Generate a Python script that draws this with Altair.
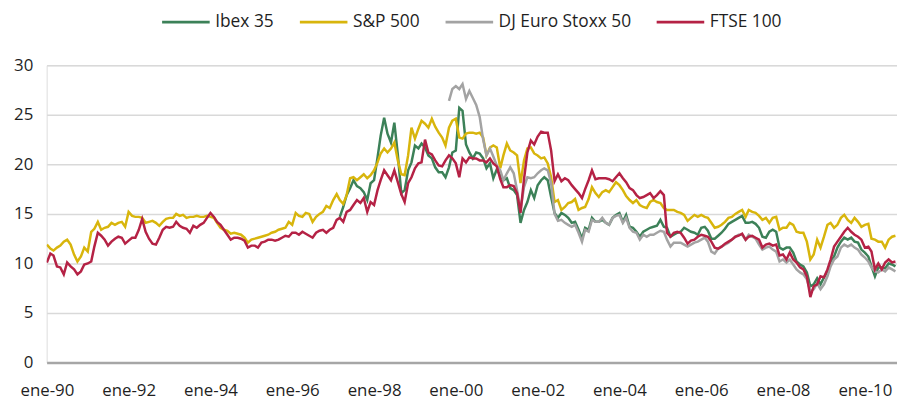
import altair as alt
import pandas as pd

# ---------------- data (monthly P/E ratios) ----------------
series_names = ["Ibex 35", "S&P 500", "DJ Euro Stoxx 50", "FTSE 100"]
series_colors = ["#3C8158", "#D8B50C", "#A3A3A3", "#B52245"]
series_start = {"Ibex 35": "1997-03-01", "S&P 500": "1990-01-01",
                "DJ Euro Stoxx 50": "1999-11-01", "FTSE 100": "1990-01-01"}

sp500 = [
    11.9, 11.5, 11.3, 11.6, 11.8, 12.2, 12.4, 11.9, 10.9, 10.2, 10.7, 11.6,  # 1990
    11.2, 13.2, 13.5, 14.2, 13.4, 13.6, 13.7, 14.1, 13.9, 14.1, 14.2, 13.7,  # 1991
    15.2, 14.8, 14.7, 14.7, 14.6, 14.1, 14.2, 14.3, 14.1, 13.8, 14.2, 14.5,  # 1992
    14.6, 14.6, 15.0, 14.8, 14.9, 14.6, 14.7, 14.7, 14.8, 14.7, 14.7, 14.8,  # 1993
    14.7, 14.6, 14.1, 13.6, 13.4, 13.3, 13.0, 13.1, 13.0, 12.9, 12.6, 12.1,  # 1994
    12.4, 12.5, 12.6, 12.7, 12.8, 12.9, 13.1, 13.2, 13.4, 13.5, 13.6, 14.2,  # 1995
    13.9, 15.1, 14.8, 14.7, 15.1, 15.0, 14.2, 14.7, 15.0, 15.2, 15.8, 15.6,  # 1996
    16.4, 17.0, 16.4, 16.0, 16.9, 18.6, 18.7, 18.4, 18.7, 19.0, 18.6, 18.9,  # 1997
    19.4, 20.2, 21.1, 21.6, 21.2, 21.6, 22.2, 20.4, 19.0, 18.9, 20.9, 23.7,  # 1998
    22.6, 23.6, 24.4, 24.1, 23.7, 24.6, 23.8, 23.2, 22.7, 21.9, 23.7, 24.4,  # 1999
    24.6, 22.7, 22.6, 23.1, 23.2, 23.2, 23.1, 23.2, 22.7, 20.9, 21.7, 21.9,  # 2000
    21.7, 19.6, 20.9, 22.1, 21.4, 21.2, 20.9, 18.1, 20.4, 21.6, 21.7, 21.1,  # 2001
    20.9, 20.6, 20.7, 20.1, 18.7, 16.2, 16.4, 15.4, 15.7, 16.1, 16.2, 16.5,  # 2002
    15.4, 15.6, 15.7, 16.5, 17.7, 17.1, 16.7, 17.2, 17.4, 17.2, 17.7, 18.2,  # 2003
    17.9, 17.4, 16.8, 16.4, 16.1, 16.4, 15.9, 15.7, 15.6, 16.2, 16.4, 16.2,  # 2004
    16.1, 15.6, 15.4, 15.4, 15.4, 15.2, 15.1, 14.9, 14.3, 14.6, 14.9, 14.7,  # 2005
    14.9, 14.7, 14.6, 14.1, 13.6, 13.7, 13.9, 14.2, 14.6, 14.7, 15.0, 15.2,  # 2006
    15.4, 14.7, 15.4, 15.2, 15.1, 14.8, 14.4, 14.6, 14.1, 14.6, 14.7, 13.4,  # 2007
    13.6, 13.6, 14.1, 13.9, 13.2, 13.1, 13.1, 12.2, 10.4, 10.9, 12.4, 11.6,  # 2008
    12.7, 13.9, 14.1, 13.6, 13.9, 14.6, 14.9, 14.4, 14.1, 14.6, 14.2, 13.7,  # 2009
    13.9, 14.0, 12.5, 12.4, 12.2, 12.2, 11.6, 12.4, 12.7, 12.8,              # 2010
]

ftse100 = [
    10.1, 11.0, 10.8, 9.7, 9.6, 8.9, 10.1, 9.7, 9.4, 8.9, 9.2, 9.9,          # 1990
    10.0, 10.2, 11.7, 13.1, 12.8, 12.4, 11.8, 12.2, 12.5, 12.7, 12.6, 12.0,  # 1991
    12.3, 12.6, 12.6, 13.4, 14.5, 13.2, 12.5, 12.0, 11.9, 12.6, 13.4, 13.7,  # 1992
    13.6, 13.7, 14.2, 13.8, 13.6, 13.5, 13.1, 13.8, 13.6, 13.9, 14.1, 14.6,  # 1993
    15.1, 14.7, 14.2, 13.9, 13.4, 12.9, 12.4, 12.6, 12.6, 12.5, 12.3, 11.6,  # 1994
    11.8, 11.8, 11.6, 12.1, 12.2, 12.4, 12.4, 12.3, 12.4, 12.6, 12.8, 12.7,  # 1995
    13.1, 13.1, 12.9, 13.2, 13.0, 12.8, 12.6, 13.1, 13.3, 13.4, 13.1, 13.4,  # 1996
    13.6, 14.4, 14.6, 14.2, 15.2, 15.4, 15.9, 16.4, 16.1, 16.6, 15.2, 16.2,  # 1997
    15.9, 17.4, 18.4, 19.4, 18.9, 18.4, 19.4, 18.2, 17.0, 16.2, 18.1, 18.7,  # 1998
    19.6, 20.1, 20.2, 22.5, 21.2, 21.0, 20.4, 19.9, 19.8, 20.4, 20.9, 20.6,  # 1999
    20.1, 18.7, 20.6, 20.2, 20.7, 20.6, 20.6, 20.4, 20.4, 20.2, 20.6, 20.1,  # 2000
    19.8, 18.5, 17.7, 17.7, 17.9, 17.8, 17.1, 15.1, 18.5, 21.2, 22.4, 22.0,  # 2001
    22.8, 23.3, 23.2, 23.2, 21.4, 18.3, 19.0, 18.3, 18.6, 18.4, 17.9, 17.5,  # 2002
    17.1, 16.6, 17.5, 18.4, 19.4, 18.5, 18.6, 18.6, 18.6, 18.5, 18.3, 18.7,  # 2003
    19.1, 18.6, 18.2, 17.6, 17.4, 16.9, 16.6, 16.7, 16.9, 17.1, 16.6, 16.9,  # 2004
    17.3, 16.9, 13.1, 12.7, 13.1, 13.2, 13.1, 12.6, 12.0, 12.3, 12.4, 12.7,  # 2005
    12.9, 12.8, 12.7, 12.2, 11.6, 11.5, 11.7, 12.0, 12.2, 12.4, 12.7, 12.8,  # 2006
    13.0, 12.4, 12.7, 12.8, 12.6, 12.4, 11.6, 11.9, 12.0, 11.8, 11.9, 10.8,  # 2007
    10.9, 10.4, 11.1, 10.4, 10.1, 9.6, 9.4, 8.7, 6.6, 7.7, 7.9, 8.7,         # 2008
    8.6, 9.4, 10.4, 11.7, 12.2, 12.7, 13.2, 13.6, 13.2, 12.9, 12.7, 12.4,    # 2009
    11.6, 11.7, 11.2, 9.4, 10.0, 9.4, 10.1, 10.4, 10.1, 10.2,                # 2010
]

ibex35 = [
    14.7, 15.7, 16.9, 17.6, 18.4, 17.8, 17.6, 17.2, 16.4, 18.1,              # 1997 (mar-dic)
    18.4, 20.7, 22.9, 24.7, 23.1, 22.2, 24.2, 21.0, 17.1, 17.4, 19.4, 20.2,  # 1998
    21.9, 21.6, 22.1, 21.7, 20.9, 20.6, 19.7, 19.2, 19.2, 18.7, 19.7, 21.2,  # 1999
    21.4, 25.7, 25.4, 22.0, 21.2, 20.6, 21.2, 21.1, 20.6, 19.6, 20.1, 18.6,  # 2000
    19.5, 18.9, 18.4, 18.6, 17.6, 17.4, 16.9, 14.1, 15.4, 16.2, 17.4, 16.6,  # 2001
    17.9, 18.4, 18.7, 18.4, 16.7, 15.1, 14.6, 15.1, 14.9, 14.6, 14.1, 14.2,  # 2002
    13.4, 12.5, 13.6, 13.4, 14.6, 14.2, 14.2, 14.4, 14.1, 13.9, 14.6, 14.9,  # 2003
    15.1, 14.2, 14.9, 13.7, 13.6, 13.2, 12.7, 13.2, 13.4, 13.6, 13.7, 13.8,  # 2004
    14.4, 13.7, 13.6, 12.7, 12.9, 13.1, 13.2, 13.6, 13.4, 13.2, 13.1, 12.9,  # 2005
    13.6, 13.7, 13.3, 12.5, 12.5, 12.8, 13.1, 13.5, 14.0, 14.2, 14.4, 14.6,  # 2006
    14.8, 14.1, 14.1, 14.2, 14.0, 13.6, 12.7, 12.6, 13.2, 13.4, 13.2, 11.6,  # 2007
    11.4, 11.6, 11.6, 11.1, 10.2, 9.9, 9.7, 9.1, 7.7, 7.9, 8.5, 7.9,         # 2008
    8.6, 9.2, 10.2, 10.7, 11.6, 12.2, 12.6, 12.4, 12.6, 12.2, 12.1, 11.4,    # 2009
    11.1, 10.7, 9.7, 8.7, 9.6, 9.6, 9.5, 10.0, 9.9, 9.7,                     # 2010
]

eurostoxx50 = [
    26.4, 27.6,                                                              # 1999 (nov-dic)
    27.9, 27.6, 28.1, 26.6, 27.4, 26.7, 26.0, 24.8, 22.5, 20.9, 21.6, 20.8,  # 2000
    19.9, 19.4, 18.4, 19.1, 19.7, 19.1, 17.4, 15.4, 17.7, 18.7, 18.6, 18.7,  # 2001
    19.1, 19.4, 19.6, 19.4, 18.1, 15.0, 14.3, 14.4, 14.1, 13.9, 13.7, 13.9,  # 2002
    13.1, 12.2, 13.4, 13.2, 14.4, 14.2, 14.2, 14.6, 14.1, 13.9, 14.6, 14.8,  # 2003
    14.9, 14.1, 14.6, 13.6, 13.2, 13.1, 12.4, 12.9, 12.7, 12.9, 12.9, 13.1,  # 2004
    13.3, 13.2, 12.4, 11.7, 12.1, 12.1, 12.1, 11.9, 11.7, 11.9, 12.1, 12.2,  # 2005
    12.4, 12.6, 12.2, 11.2, 11.0, 11.5, 11.7, 11.9, 12.1, 12.4, 12.7, 12.9,  # 2006
    12.9, 12.4, 12.9, 12.7, 12.5, 11.9, 11.4, 11.6, 11.7, 11.4, 11.2, 10.2,  # 2007
    10.4, 10.1, 10.4, 9.9, 9.4, 9.1, 8.9, 8.4, 7.2, 7.4, 8.0, 7.4,           # 2008
    7.9, 8.7, 9.7, 10.4, 10.7, 11.6, 11.9, 11.7, 11.9, 11.6, 11.4, 10.9,     # 2009
    10.6, 10.2, 9.6, 9.2, 9.1, 9.4, 9.2, 9.6, 9.4, 9.2,                      # 2010
]

y_ticks = [0, 5, 10, 15, 20, 25, 30]
x_tick_years = [1990, 1992, 1994, 1996, 1998, 2000, 2002, 2004, 2006, 2008, 2010]

# ---------------- long table ----------------
values_by_name = {"Ibex 35": ibex35, "S&P 500": sp500,
                  "DJ Euro Stoxx 50": eurostoxx50, "FTSE 100": ftse100}
rows = []
for name in series_names:
    vals = values_by_name[name]
    dates = pd.date_range(series_start[name], periods=len(vals), freq="MS")
    for d, v in zip(dates, vals):
        rows.append({"fecha": d.strftime("%Y-%m-%d"), "serie": name, "valor": v})
df = pd.DataFrame(rows)

FONT = "Open Sans"
TXT = "#1f1f1f"

x_axis = alt.Axis(
    values=[alt.DateTime(year=y, month=1, date=1, utc=True) for y in x_tick_years],
    labelExpr="'ene-' + utcFormat(datum.value, '%y')",
    title=None, grid=False, ticks=False,
    domain=True, domainColor="#A6A6A6", domainWidth=2.5,
    labelFont=FONT, labelFontSize=17, labelColor=TXT, labelPadding=20,
    labelFlush=False, labelOverlap=False,
)
y_axis = alt.Axis(
    values=y_ticks, title=None, domain=False, ticks=False,
    grid=True, gridColor="#D9D9D9", gridWidth=1.5,
    labelFont=FONT, labelFontSize=17, labelColor=TXT, labelPadding=14,
)

chart = alt.Chart(df).mark_line(strokeWidth=2.5, strokeJoin="miter", clip=True).encode(
    x=alt.X("fecha:T", axis=x_axis,
            scale=alt.Scale(type="utc",
                            domain=[alt.DateTime(year=1989, month=12, date=30, utc=True),
                                    alt.DateTime(year=2010, month=10, date=15, utc=True)])),
    y=alt.Y("valor:Q", axis=y_axis, scale=alt.Scale(domain=[0, 30], nice=False)),
    color=alt.Color("serie:N",
                    scale=alt.Scale(domain=series_names, range=series_colors),
                    legend=alt.Legend(
                        title=None, orient="none", direction="horizontal",
                        legendX=115, legendY=-69,
                        symbolType="stroke", symbolSize=2304, symbolStrokeWidth=3,
                        labelFont=FONT, labelFontSize=17.5, labelColor=TXT,
                        labelOffset=4, columnPadding=19,
                    )),
    order=alt.Order("fecha:T"),
    detail="serie:N",
).properties(
    width=858, height=300,
    autosize=alt.AutoSizeParams(type="none"),
    padding={"left": 39, "top": 56, "right": 0, "bottom": 36},
).configure_view(stroke=None).configure(background="white")

chart.save("out.html", embed_options={"renderer": "svg", "actions": False})
